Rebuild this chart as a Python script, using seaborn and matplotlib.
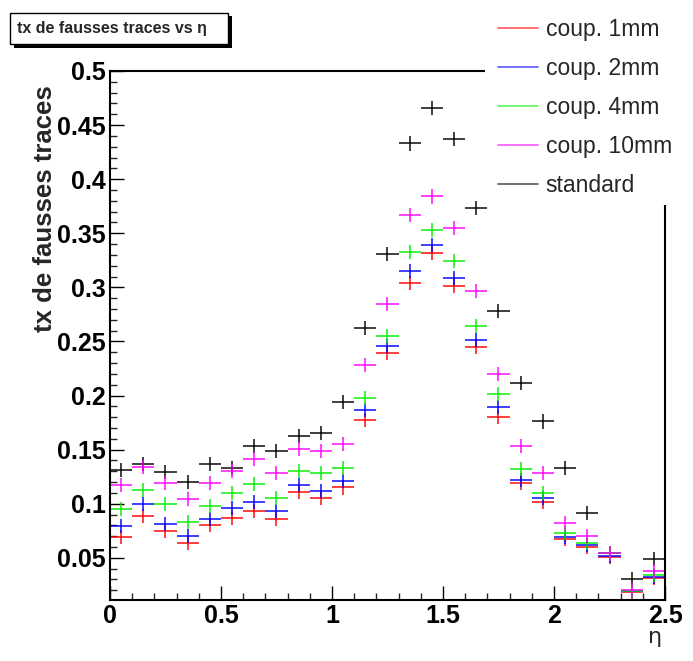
import numpy as np
import pandas as pd
import seaborn as sns
import matplotlib.pyplot as plt
from matplotlib.lines import Line2D
from matplotlib.patches import Rectangle
from matplotlib.ticker import MultipleLocator

# bin centres in eta (bin width 0.1)
eta = [0.05, 0.15, 0.25, 0.35, 0.45, 0.55, 0.65, 0.75, 0.85, 0.95,
       1.05, 1.15, 1.25, 1.35, 1.45, 1.55, 1.65, 1.75, 1.85, 1.95,
       2.05, 2.15, 2.25, 2.35, 2.45]

coup_1mm = [0.069, 0.089, 0.075, 0.064, 0.080, 0.087, 0.093, 0.086, 0.111, 0.105,
            0.115, 0.177, 0.239, 0.304, 0.332, 0.301, 0.245, 0.180, 0.119, 0.102,
            0.067, 0.060, 0.051, 0.018, 0.031]
coup_2mm = [0.079, 0.100, 0.081, 0.070, 0.086, 0.096, 0.102, 0.093, 0.117, 0.112,
            0.121, 0.187, 0.246, 0.315, 0.339, 0.309, 0.251, 0.189, 0.122, 0.105,
            0.069, 0.062, 0.052, 0.019, 0.032]
coup_4mm = [0.095, 0.113, 0.100, 0.083, 0.098, 0.110, 0.118, 0.105, 0.130, 0.128,
            0.133, 0.198, 0.255, 0.333, 0.353, 0.324, 0.264, 0.201, 0.132, 0.110,
            0.073, 0.064, 0.054, 0.019, 0.034]
coup_10mm = [0.117, 0.134, 0.119, 0.104, 0.119, 0.130, 0.141, 0.128, 0.151, 0.149,
             0.155, 0.228, 0.285, 0.367, 0.384, 0.355, 0.297, 0.220, 0.153, 0.128,
             0.082, 0.070, 0.054, 0.020, 0.038]
standard = [0.131, 0.137, 0.129, 0.120, 0.137, 0.133, 0.153, 0.149, 0.163, 0.165,
            0.194, 0.262, 0.331, 0.433, 0.466, 0.437, 0.373, 0.278, 0.212, 0.176,
            0.133, 0.091, 0.054, 0.030, 0.049]

labels = ["coup. 1mm", "coup. 2mm", "coup. 4mm", "coup. 10mm", "standard"]
colors = ["#ff0000", "#0000ff", "#00ee00", "#ff00ff", "#000000"]

rows = []
for lab, vals in zip(labels, [coup_1mm, coup_2mm, coup_4mm, coup_10mm, standard]):
    for x, v in zip(eta, vals):
        rows.append({"eta": x, "rate": v, "series": lab})
df = pd.DataFrame(rows)

sns.set_style("ticks")
plt.rcParams['font.family'] = ['Liberation Sans', 'DejaVu Sans']

fig = plt.figure(figsize=(6.93, 6.61), dpi=100)
ax = fig.add_axes([0.1587, 0.0923, 0.8009, 0.8003])

# draw standard first, then the coupled ones on top
order = ["standard", "coup. 1mm", "coup. 2mm", "coup. 4mm", "coup. 10mm"]
pal = dict(zip(labels, colors))
for lab in order:
    sub = df[df["series"] == lab]
    ax.errorbar(sub["eta"], sub["rate"], xerr=0.05, yerr=0.0065, fmt="none",
                ecolor=pal[lab], elinewidth=1.4, alpha=0.75, capsize=0)

ax.set_xlim(0, 2.5)
ax.set_ylim(0.011, 0.5)
ax.xaxis.set_minor_locator(MultipleLocator(0.1))
ax.yaxis.set_minor_locator(MultipleLocator(0.01))
ax.set_xticks([0, 0.5, 1, 1.5, 2, 2.5])
ax.set_xticklabels(["0", "0.5", "1", "1.5", "2", "2.5"])
ax.set_yticks([0.05, 0.1, 0.15, 0.2, 0.25, 0.3, 0.35, 0.4, 0.45, 0.5])
ax.set_yticklabels(["0.05", "0.1", "0.15", "0.2", "0.25", "0.3", "0.35", "0.4", "0.45", "0.5"])
ax.tick_params(which="major", direction="in", length=10, width=1, pad=3,
               labelsize=18, top=False, right=False, colors="black")
ax.tick_params(which="minor", direction="in", length=5, width=1, top=False, right=False)
for t in ax.get_xticklabels() + ax.get_yticklabels():
    t.set_fontweight("bold")
for s in ax.spines.values():
    s.set_visible(True)
    s.set_color("black")
    s.set_linewidth(1.5)

ax.set_ylabel("tx de fausses traces", fontsize=18.5, fontweight="bold",
              rotation=90, ha="right", va="center")
ax.yaxis.set_label_coords(-0.117, 0.973)
ax.set_xlabel("")
fig.text(0.945, 0.036, "η", fontsize=16, ha="center", va="center",
         family=['DejaVu Sans'])

# legend pad (white, covers the frame corner)
fig.patches.append(Rectangle((0.70, 0.69), 0.30, 0.31, transform=fig.transFigure,
                             facecolor="white", edgecolor="none", zorder=4))
handles = [Line2D([0], [0], color=c, lw=1.3, alpha=0.6) for c in colors]
fig.legend(handles, labels, loc="upper left", bbox_to_anchor=(0.695, 0.997),
           frameon=False, fontsize=16.5, handlelength=1.75, handletextpad=0.35,
           labelspacing=0.7, borderaxespad=0.3)

# title box with shadow
fig.patches.append(Rectangle((0.0195, 0.928), 0.3146, 0.048, transform=fig.transFigure,
                             facecolor="black", edgecolor="none", zorder=4))
fig.patches.append(Rectangle((0.0145, 0.933), 0.3146, 0.048, transform=fig.transFigure,
                             facecolor="white", edgecolor="black", lw=1, zorder=5))
fig.text(0.025, 0.957, "tx de fausses traces vs η", fontsize=11.5, fontweight="bold",
         ha="left", va="center", zorder=6)

fig.savefig("out.png", dpi=100)
